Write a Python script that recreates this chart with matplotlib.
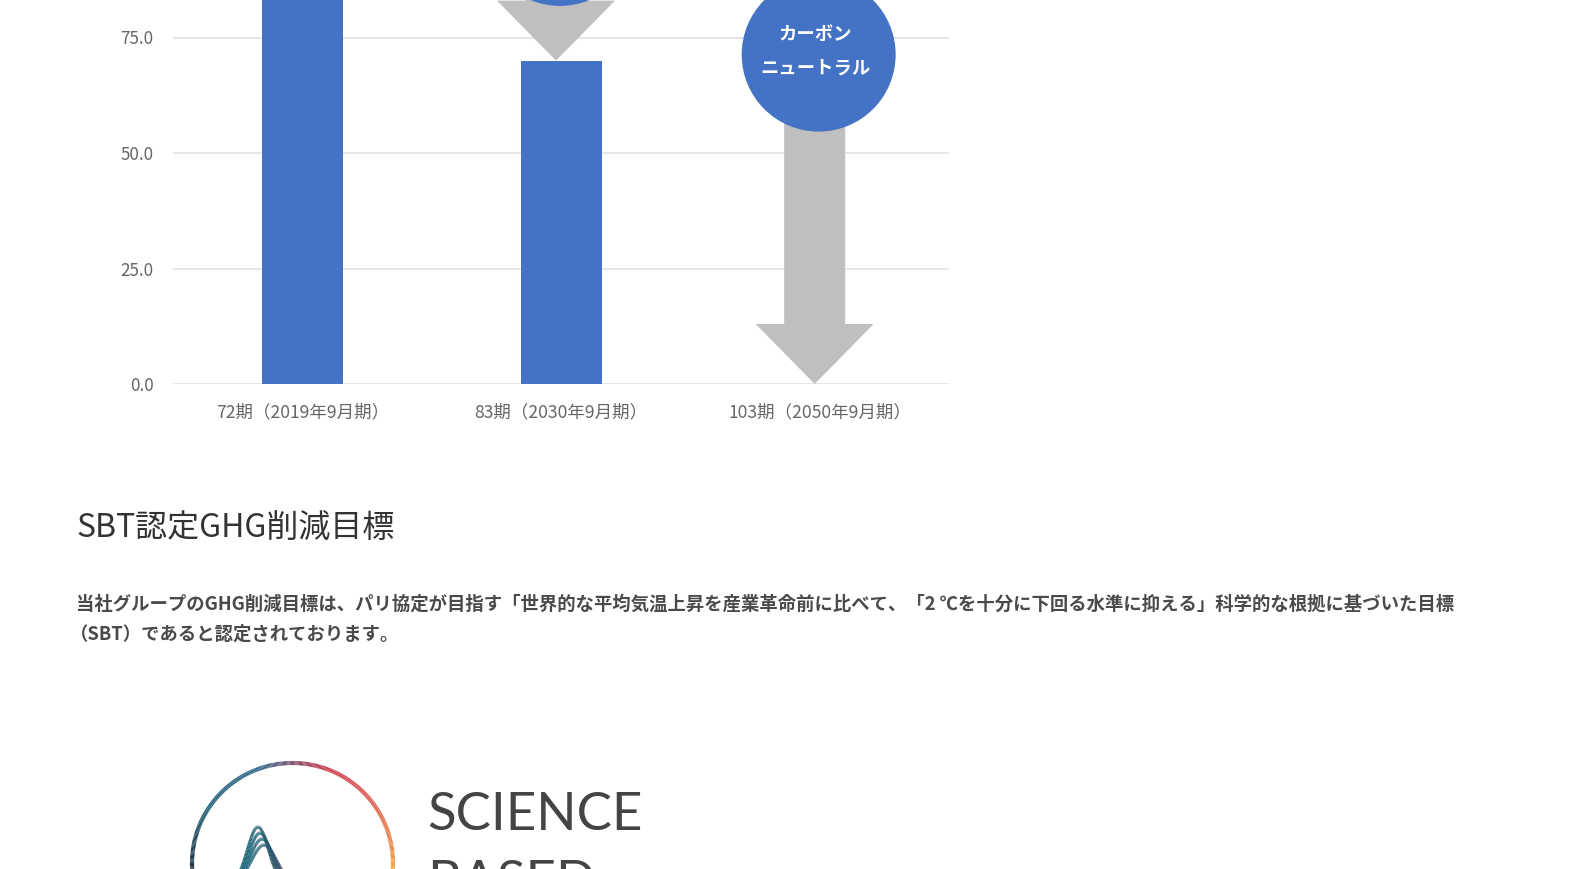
import numpy as np
import matplotlib
matplotlib.use("Agg")
import matplotlib.pyplot as plt
from matplotlib.patches import Ellipse, FancyArrow
from matplotlib.collections import LineCollection
from matplotlib.colors import LinearSegmentedColormap

plt.rcParams["font.family"] = ["Noto Sans CJK JP", "DejaVu Sans"]

# Data
categories = ["72期（2019年9月期）", "83期（2030年9月期）", "103期（2050年9月期）"]
emissions = [100.0, 70.0, 0.0]
y_ticks = [0.0, 25.0, 50.0, 75.0]
# reduction arrows: start level (circle centre) -> bar value of the category
arrow_idx = [1, 2]
arrow_from = [98.5, 71.3]
badge_lines = ["カーボン", "ニュートラル"]

heading = "SBT認定GHG削減目標"
para_lines = [
    "当社グループのGHG削減目標は、パリ協定が目指す「世界的な平均気温上昇を産業革命前に比べて、「2 ℃を十分に下回る水準に抑える」科学的な根拠に基づいた目標",
    "（SBT）であると認定されております。",
]

W, H = 1588, 869
fig = plt.figure(figsize=(W / 100, H / 100), dpi=100)
fig.patch.set_facecolor("white")

# overlay in pixel coords for page text + logo
ov = fig.add_axes([0, 0, 1, 1], zorder=0)
ov.set_xlim(0, W)
ov.set_ylim(H, 0)
ov.axis("off")

# chart axes
ax_l, ax_r, ax_y0 = 173, 949, 384
px_per_unit = 4.62
ymax = ax_y0 / px_per_unit
ax = fig.add_axes([ax_l / W, (H - ax_y0) / H, (ax_r - ax_l) / W, ax_y0 / H], zorder=1)
ax.patch.set_alpha(0)
x = np.arange(len(categories))
ax.set_xlim(-0.5, 2.5)
ax.set_ylim(0, ymax)
ux = (ax_r - ax_l) / 3.0  # px per x unit

blue = "#4472C4"
grey = "#BFBFBF"
ax.bar(x, emissions, width=81 / ux, color=blue, zorder=2)

ax.set_yticks(y_ticks)
ax.set_yticklabels(["%.1f" % v for v in y_ticks])
ax.set_xticks(x)
ax.set_xticklabels(categories)
ax.grid(axis="y", color="#E4E4E4", lw=1.3, zorder=0)
for s in ax.spines.values():
    s.set_visible(False)
ax.tick_params(length=0, colors="#666666")
ax.tick_params(axis="y", labelsize=12.3, pad=14)
ax.tick_params(axis="x", labelsize=12.6, pad=14)

r_px = 77
ax_off = -5 / ux   # arrows sit slightly left of the bar centre
for i, y0 in zip(arrow_idx, arrow_from):
    y1 = emissions[i]
    arr = FancyArrow(x[i] + ax_off, y0, 0, y1 - y0, width=61 / ux, head_width=118 / ux,
                     head_length=60 / px_per_unit, length_includes_head=True,
                     color=grey, lw=0, zorder=3)
    ax.add_patch(arr)
    circ = Ellipse((x[i] - 1 / ux, y0), 2 * r_px / ux, 2 * r_px / px_per_unit,
                   color=blue, lw=0, zorder=4)
    ax.add_patch(circ)

# badge text on the final (visible) circle
i_b, y_b = arrow_idx[-1], arrow_from[-1]
for k, t in enumerate(badge_lines):
    ax.text(x[i_b] - 4 / ux, y_b + (19.7 - 33.0 * k) / px_per_unit, t, color="white",
            fontsize=13.2, fontweight="bold", ha="center", va="center", zorder=5)

# page text
ov.text(76, 529, heading, fontsize=23, color="#333333", ha="left", va="center")
for k, line in enumerate(para_lines):
    ov.text(76 if k == 0 else 70, 604 + 30.5 * k, line, fontsize=13.2, color="#4a4a4a",
            ha="left", va="center", fontweight="bold")

# SBTi logo (decoration)
cx, cy, r = 292.5, 863.5, 100.5
th = np.linspace(np.radians(-40), np.radians(220), 400)
px = cx + r * np.cos(th)
py = cy - r * np.sin(th)
pts = np.column_stack([px, py]).reshape(-1, 1, 2)
segs = np.concatenate([pts[:-1], pts[1:]], axis=1)
ring_cmap = LinearSegmentedColormap.from_list(
    "ring", ["#f5c046", "#f0a040", "#e0604a", "#c8384e", "#2f6688", "#1f5f78", "#1a2e3c", "#161e26"])
lc = LineCollection(segs, cmap=ring_cmap, linewidths=3)
lc.set_array(np.linspace(0, 1, len(segs)))
ov.add_collection(lc)

wx = np.linspace(215, 300, 200)
wcm = LinearSegmentedColormap.from_list("w", ["#1e6b7d", "#1e6b7d", "#2a5a70", "#7a3a50"])
for j, (xp, pk) in enumerate([(258, 827), (260, 833), (262, 839), (264, 845)]):
    wy = 885 - (885 - pk) * np.exp(-((wx - xp) / (15 + j)) ** 2)
    wpts = np.column_stack([wx, wy]).reshape(-1, 1, 2)
    wsegs = np.concatenate([wpts[:-1], wpts[1:]], axis=1)
    wl = LineCollection(wsegs, cmap=wcm, linewidths=2.2)
    wl.set_array(np.linspace(0, 1, len(wsegs)))
    ov.add_collection(wl)

ov.text(427, 815, "SCIENCE", fontsize=38, color="#444444", family=["Lato", "DejaVu Sans"],
        ha="left", va="center")
ov.text(427, 884, "BASED", fontsize=38, color="#444444", family=["Lato", "DejaVu Sans"],
        ha="left", va="center")

fig.savefig("out.png", dpi=100)
